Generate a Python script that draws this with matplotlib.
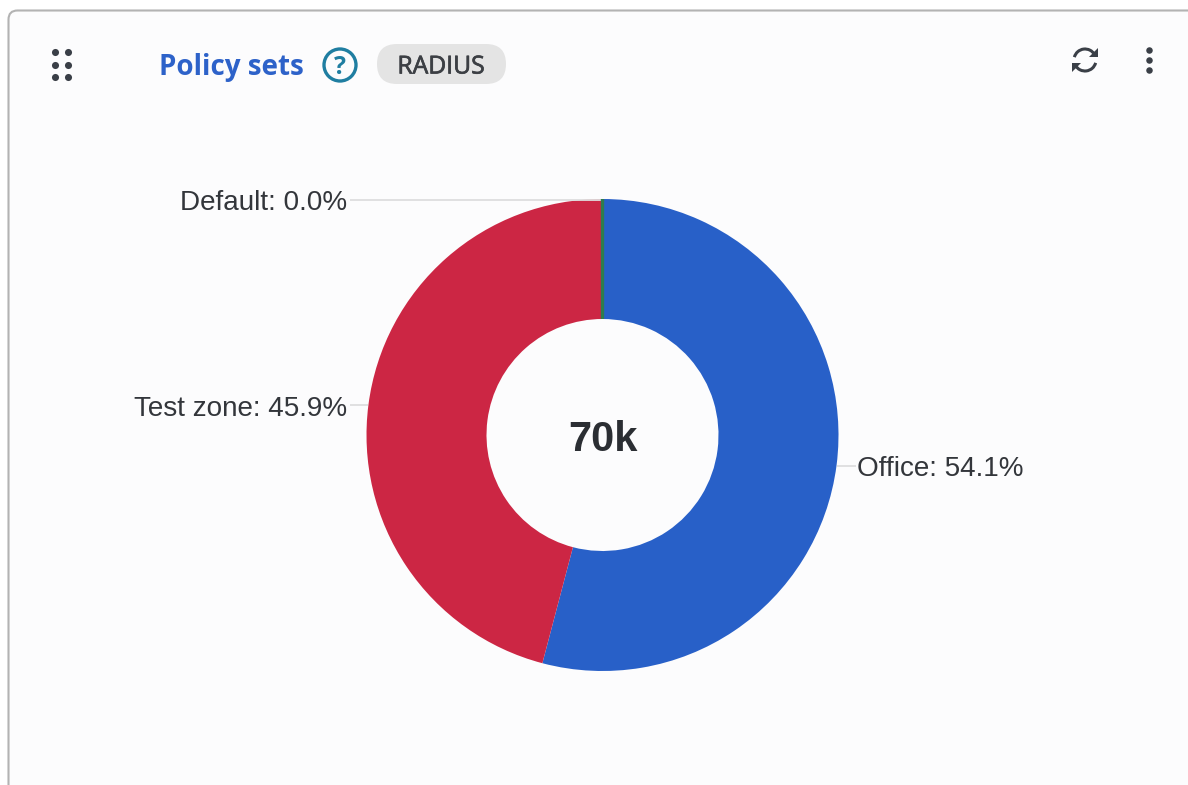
#!/usr/bin/env python3
# -*- coding: utf-8 -*-
import numpy as np
import matplotlib
matplotlib.use('Agg')
import matplotlib.pyplot as plt
import matplotlib.patheffects as pe
from matplotlib.patches import FancyBboxPatch, Arc, Circle, Polygon

W, H = 1188, 785

labels = ['Office', 'Test zone', 'Default']
shares = [54.1, 45.9, 0.0]
colors = ['#2860c8', '#cc2644', '#2e7d4f']
total_label = '70k'
title = 'Policy sets'
tag = 'RADIUS'

TEXT = '#33363b'
ICON = '#3a3f47'
LEAD = '#dedede'


def Y(y):
    # layout below is measured from the top edge
    return H - y


fig = plt.figure(figsize=(W / 100, H / 100), dpi=100, facecolor='white')
ax = fig.add_axes([0, 0, 1, 1])

# card
card = FancyBboxPatch((8.5, Y(800)), 1300, 789.5, boxstyle='round,pad=0,rounding_size=9',
                      fc='#fcfcfd', ec='#b3b3b3', lw=1.5, zorder=0)
ax.add_patch(card)

# donut
cx, cy, R = 602.5, Y(435), 236
wedges, _ = ax.pie(shares, colors=colors, startangle=90, counterclock=False,
                   center=(cx, cy), radius=R, normalize=True,
                   wedgeprops={'width': R - 116, 'linewidth': 0})
wedges[2].set_edgecolor(colors[2])
wedges[2].set_linewidth(2.4)
wedges[2].set_zorder(3)

ax.set_xlim(0, W)
ax.set_ylim(0, H)
ax.set_aspect('auto')
ax.axis('off')

ax.text(cx, cy - 5, total_label, ha='center', va='center', fontsize=30,
        fontweight='bold', family='Liberation Sans', color='#2b2e33')

# leader lines and labels
for w, name, val in zip(wedges, labels, shares):
    mid = np.deg2rad((w.theta1 + w.theta2) / 2)
    ex, ey = cx + R * np.cos(mid), cy + R * np.sin(mid)
    right = np.cos(mid) > 0.5
    if right:
        x_end, ha = ex + 19, 'left'
    else:
        x_end, ha = 350, 'right'
    ax.plot([ex, x_end], [ey - 0.7, ey - 0.7], color=LEAD, lw=1.3, zorder=1, solid_capstyle='butt')
    tx = x_end + 1 if right else x_end - 3
    ax.text(tx, ey - 1, '%s: %.1f%%' % (name, val), ha=ha, va='center_baseline', fontsize=20.1,
            family='Liberation Sans', color=TEXT)

# header
dx = [55, 67.5]
dy = [52, 64.5, 77]
gx, gy = np.meshgrid(dx, dy)
ax.scatter(gx.ravel(), Y(gy.ravel()), s=26, color=ICON, linewidths=0)

ax.text(159, Y(64), title, ha='left', va='center_baseline', fontsize=20, fontweight='bold',
        family='Open Sans', color='#2d62c9')

ax.add_patch(Circle((340, Y(65)), 16, fc='none', ec='#1f7ea1', lw=2.4))
ax.text(340, Y(65), '?', ha='center', va='center_baseline', fontsize=18, fontweight='bold',
        family='Open Sans', color='#1f7ea1')

ax.add_patch(FancyBboxPatch((377, Y(84)), 129, 40, boxstyle='round,pad=0,rounding_size=20',
                            fc='#e4e4e4', ec='none'))
tag_text = ax.text(441, Y(64), tag, ha='center', va='center_baseline', fontsize=17.8,
                   family='Open Sans', color='#3c3f44')
tag_text.set_path_effects([pe.withStroke(linewidth=0.5, foreground='#3c3f44')])

# refresh icon
rx, ry = 1085, Y(60)
ax.add_patch(Arc((rx, ry), 22, 22, theta1=30, theta2=165, color=ICON, lw=2.2))
ax.add_patch(Arc((rx, ry), 22, 22, theta1=210, theta2=345, color=ICON, lw=2.2))
ax.add_patch(Polygon([(rx + 13, ry + 12), (rx + 13, ry + 3), (rx + 4, ry + 3)], fc=ICON, ec='none'))
ax.add_patch(Polygon([(rx - 13, ry - 12), (rx - 13, ry - 3), (rx - 4, ry - 3)], fc=ICON, ec='none'))

# kebab menu
ax.scatter([1148.5] * 3, Y(np.array([50, 60, 70])), s=22, color=ICON, linewidths=0)

fig.savefig('out.png', dpi=100, facecolor='white')
